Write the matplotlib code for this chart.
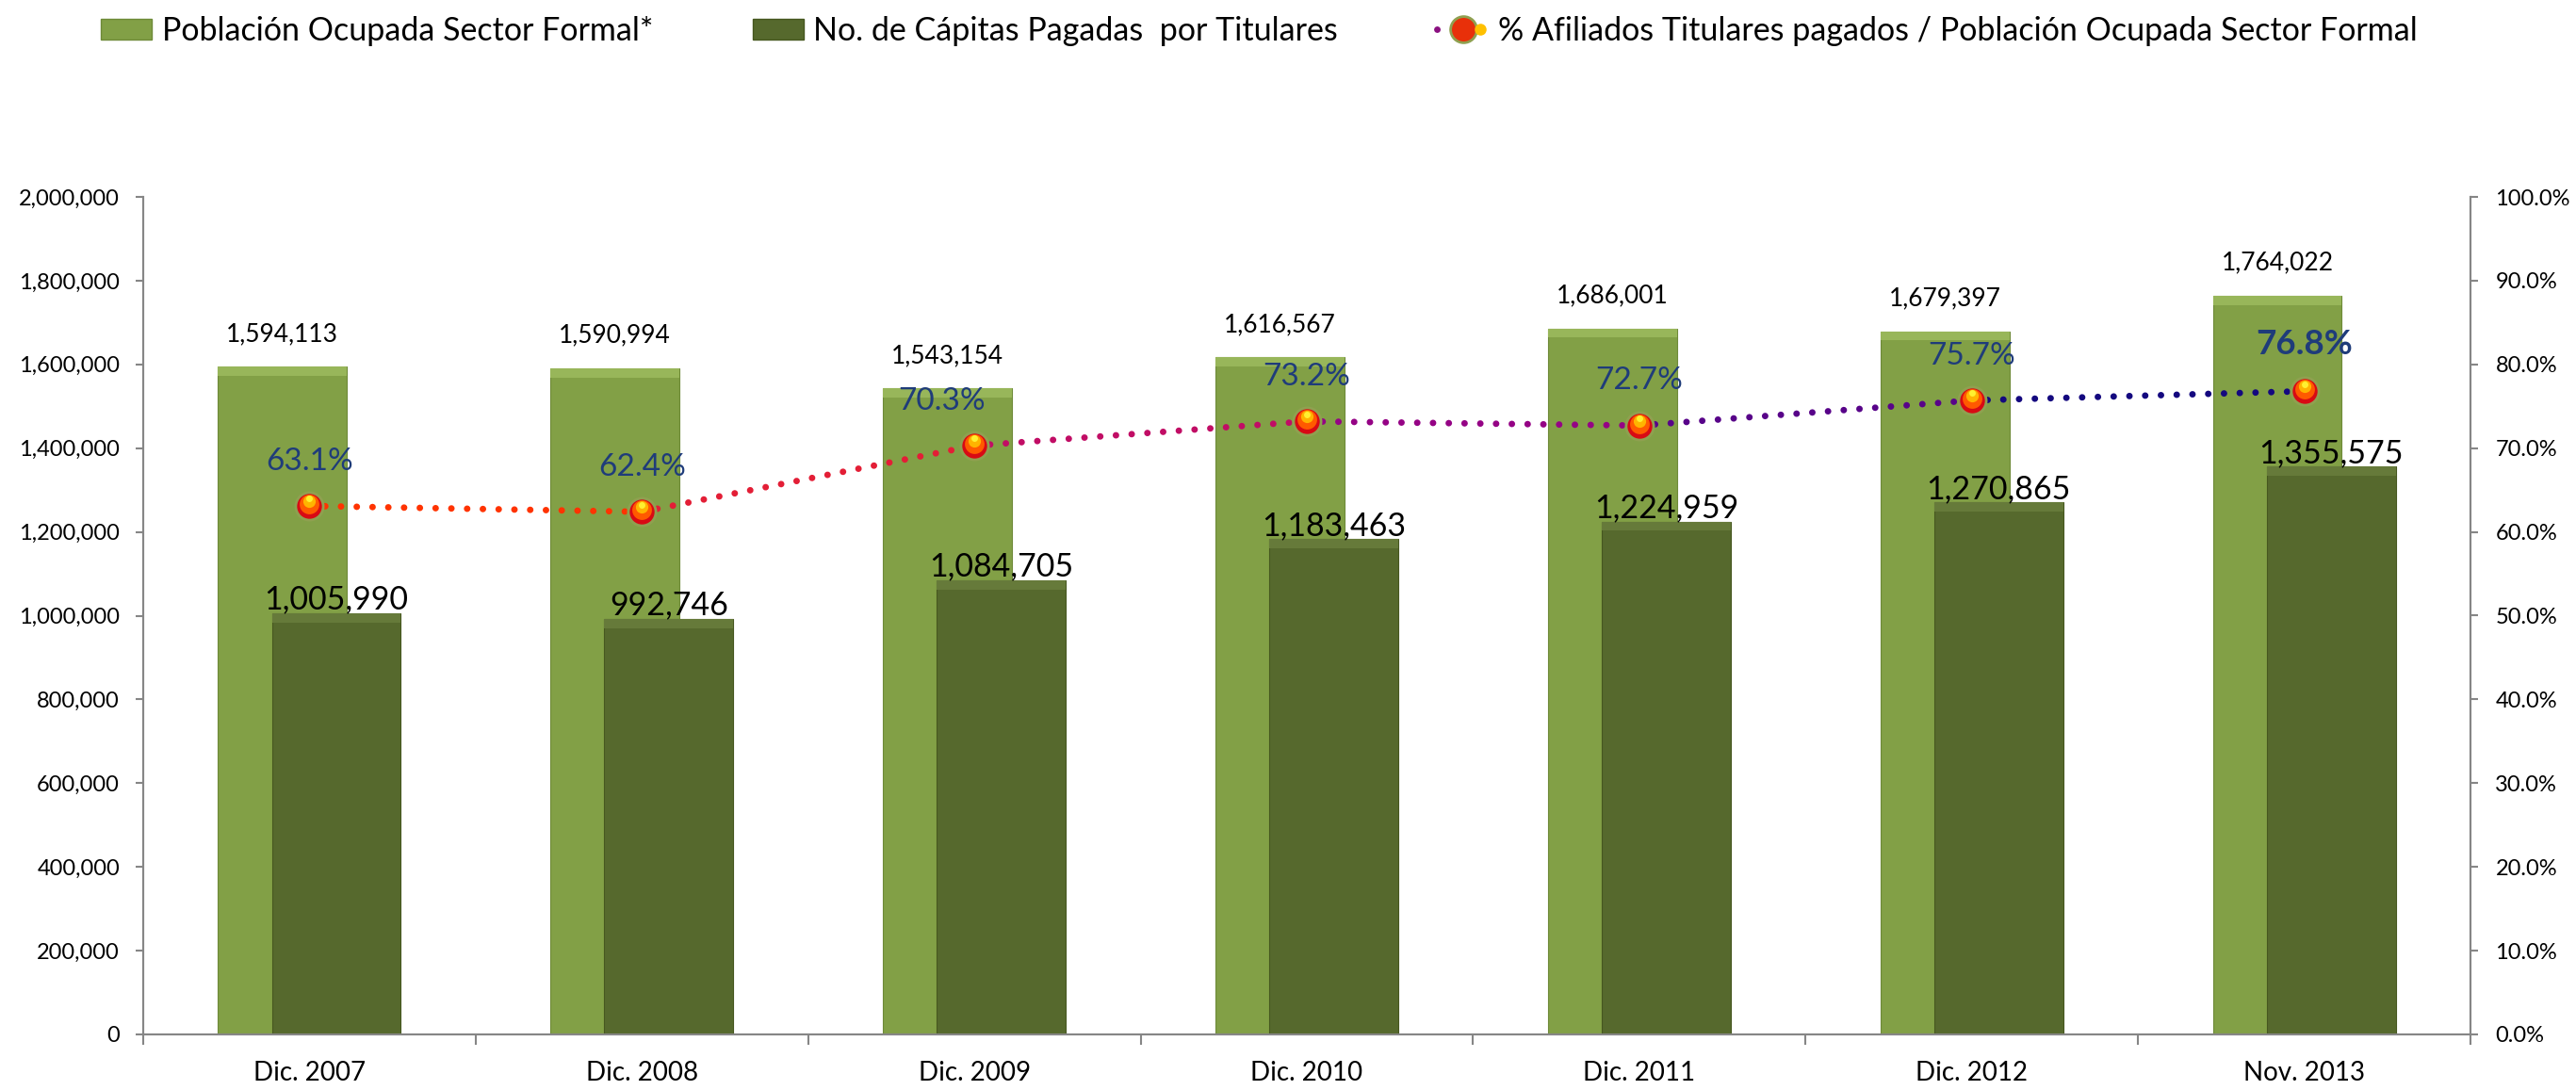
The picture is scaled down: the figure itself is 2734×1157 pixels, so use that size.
import numpy as np
import matplotlib
matplotlib.use('Agg')
import matplotlib.pyplot as plt
from matplotlib.collections import LineCollection
from matplotlib.colors import LinearSegmentedColormap
from matplotlib.lines import Line2D
from matplotlib.patches import Patch
from matplotlib.legend_handler import HandlerTuple
from matplotlib.transforms import offset_copy
from matplotlib.ticker import FuncFormatter, MultipleLocator

plt.rcParams['font.family'] = ['Lato', 'DejaVu Sans']

# data
categorias = ['Dic. 2007', 'Dic. 2008', 'Dic. 2009', 'Dic. 2010', 'Dic. 2011', 'Dic. 2012', 'Nov. 2013']
poblacion = [1594113, 1590994, 1543154, 1616567, 1686001, 1679397, 1764022]
capitas = [1005990, 992746, 1084705, 1183463, 1224959, 1270865, 1355575]
porcentaje = [0.631, 0.624, 0.703, 0.732, 0.727, 0.757, 0.768]

lbl_pob = 'Población Ocupada Sector Formal*'
lbl_cap = 'No. de Cápitas Pagadas  por Titulares'
lbl_pct = '% Afiliados Titulares pagados / Población Ocupada Sector Formal'

# colours
light = '#82A046'
light_top = '#98B65A'
dark = '#56692D'
dark_top = '#667A3A'
axis_gray = '#868686'
pct_blue = '#1F3C7A'

fig = plt.figure(figsize=(27.34, 11.57), dpi=100)
ax = fig.add_axes([152 / 2734, 59 / 1157, (2622 - 152) / 2734, (1098 - 209) / 1157])
ax2 = ax.twinx()

x = np.arange(len(categorias))
w = 0.388
off = 0.081
ymax = 2000000
bevel = 0.011 * ymax

ax.bar(x - off, poblacion, width=w, color=light, edgecolor='#6E8A38', linewidth=0.8, zorder=2)
ax.bar(x - off, bevel, width=w, bottom=np.array(poblacion) - bevel, color=light_top, linewidth=0, zorder=2)
ax.bar(x + off, capitas, width=w, color=dark, edgecolor='#46571F', linewidth=0.8, zorder=3)
ax.bar(x + off, bevel, width=w, bottom=np.array(capitas) - bevel, color=dark_top, linewidth=0, zorder=3)

for xi, v in zip(x, poblacion):
    ax.annotate(f'{v:,}', (xi - off, v), xytext=(0, 25), textcoords='offset points',
                ha='center', va='center', fontsize=19, color='black', zorder=5)
for xi, v in zip(x, capitas):
    ax.annotate(f'{v:,}', (xi + off, v), xytext=(0, 3), textcoords='offset points',
                ha='center', va='baseline', fontsize=24.5, color='black', zorder=5)

ax.set_ylim(0, ymax)
ax.set_xlim(-0.5, len(categorias) - 0.5)
ax.yaxis.set_major_locator(MultipleLocator(200000))
ax.yaxis.set_major_formatter(FuncFormatter(lambda v, p: f'{int(v):,}'))
ax.set_xticks(np.arange(-0.5, len(categorias)))
ax.set_xticklabels([])
ax.set_xticks(x, minor=True)
ax.set_xticklabels(categorias, minor=True)
ax.tick_params(axis='x', which='major', length=8, width=1.5, color=axis_gray, direction='out')
ax.tick_params(axis='x', which='minor', length=0, pad=20, labelsize=20)
ax.tick_params(axis='y', length=6, width=1.5, color=axis_gray, direction='out', pad=12, labelsize=17)

# percentage line, coloured per segment
cmap = LinearSegmentedColormap.from_list('pct', ['#FF3300', '#D0105A', '#860090', '#14087F'])
pts = np.column_stack([x, porcentaje])
segs = np.stack([pts[:-1], pts[1:]], axis=1)
seg_cols = [cmap(t) for t in np.linspace(0, 1, len(segs))]
lc = LineCollection(segs, colors=seg_cols, linewidths=5, linestyles=[(0, (0.01, 2.4))],
                    capstyle='round', zorder=4)
ax2.add_collection(lc)

# sphere-like markers: red base with orange/yellow highlights towards the top
ax2.plot(x, porcentaje, 'o', ms=21, mfc='#D80A14', mec='#8FA050', mew=2, zorder=5)
sphere_layers = [(1.5, 15, '#FF5A00'), (3.5, 9.5, '#FFB400'), (5.5, 5, '#FFF030')]
for dy, ms, col in sphere_layers:
    tr = offset_copy(ax2.transData, fig=fig, y=dy, units='points')
    ax2.plot(x, porcentaje, 'o', ms=ms, mfc=col, mec='none', transform=tr, zorder=6)

pct_dx = {2: -25}
for i, (xi, v) in enumerate(zip(x, porcentaje)):
    last = i == len(x) - 1
    ax2.annotate(f'{v:.1%}', (xi, v), xytext=(pct_dx.get(i, 0), 36 if last else 34),
                 textcoords='offset points', ha='center', va='center',
                 fontsize=26.5 if last else 24, fontweight='bold' if last else 'normal',
                 color=pct_blue, zorder=8)

ax2.set_ylim(0, 1)
ax2.yaxis.set_major_locator(MultipleLocator(0.1))
ax2.yaxis.set_major_formatter(FuncFormatter(lambda v, p: f'{v * 100:.1f}%'))
ax2.tick_params(axis='y', length=6, width=1.5, color=axis_gray, direction='out', pad=13, labelsize=17)

for a in (ax, ax2):
    a.spines['top'].set_visible(False)
    for s in ('left', 'right', 'bottom'):
        a.spines[s].set_color(axis_gray)
        a.spines[s].set_linewidth(1.5)

# legend
h_pob = Patch(facecolor=light, edgecolor='#6E8A38')
h_cap = Patch(facecolor=dark, edgecolor='#46571F')
h_line = Line2D([0], [0], color='#8A1080', lw=5, linestyle=(0, (0.01, 2.4)), dash_capstyle='round')
h_m1 = Line2D([0], [0], marker='o', ms=20, mfc='#E8300A', mec='#8FA050', mew=2, lw=0)
h_m2 = Line2D([0], [0], marker='o', ms=9, mfc='#FFC000', mec='none', lw=0)
fig.legend([h_pob, h_cap, (h_line, h_m1, h_m2)], [lbl_pob, lbl_cap, lbl_pct],
           handler_map={tuple: HandlerTuple(ndivide=None)},
           loc='center left', bbox_to_anchor=(107 / 2734, 1 - 33 / 1157), ncol=3,
           frameon=False, fontsize=24.5, borderpad=0, borderaxespad=0,
           handlelength=1.6, handleheight=0.62, handletextpad=0.3, columnspacing=3.1)

fig.savefig('out.png', dpi=100)
